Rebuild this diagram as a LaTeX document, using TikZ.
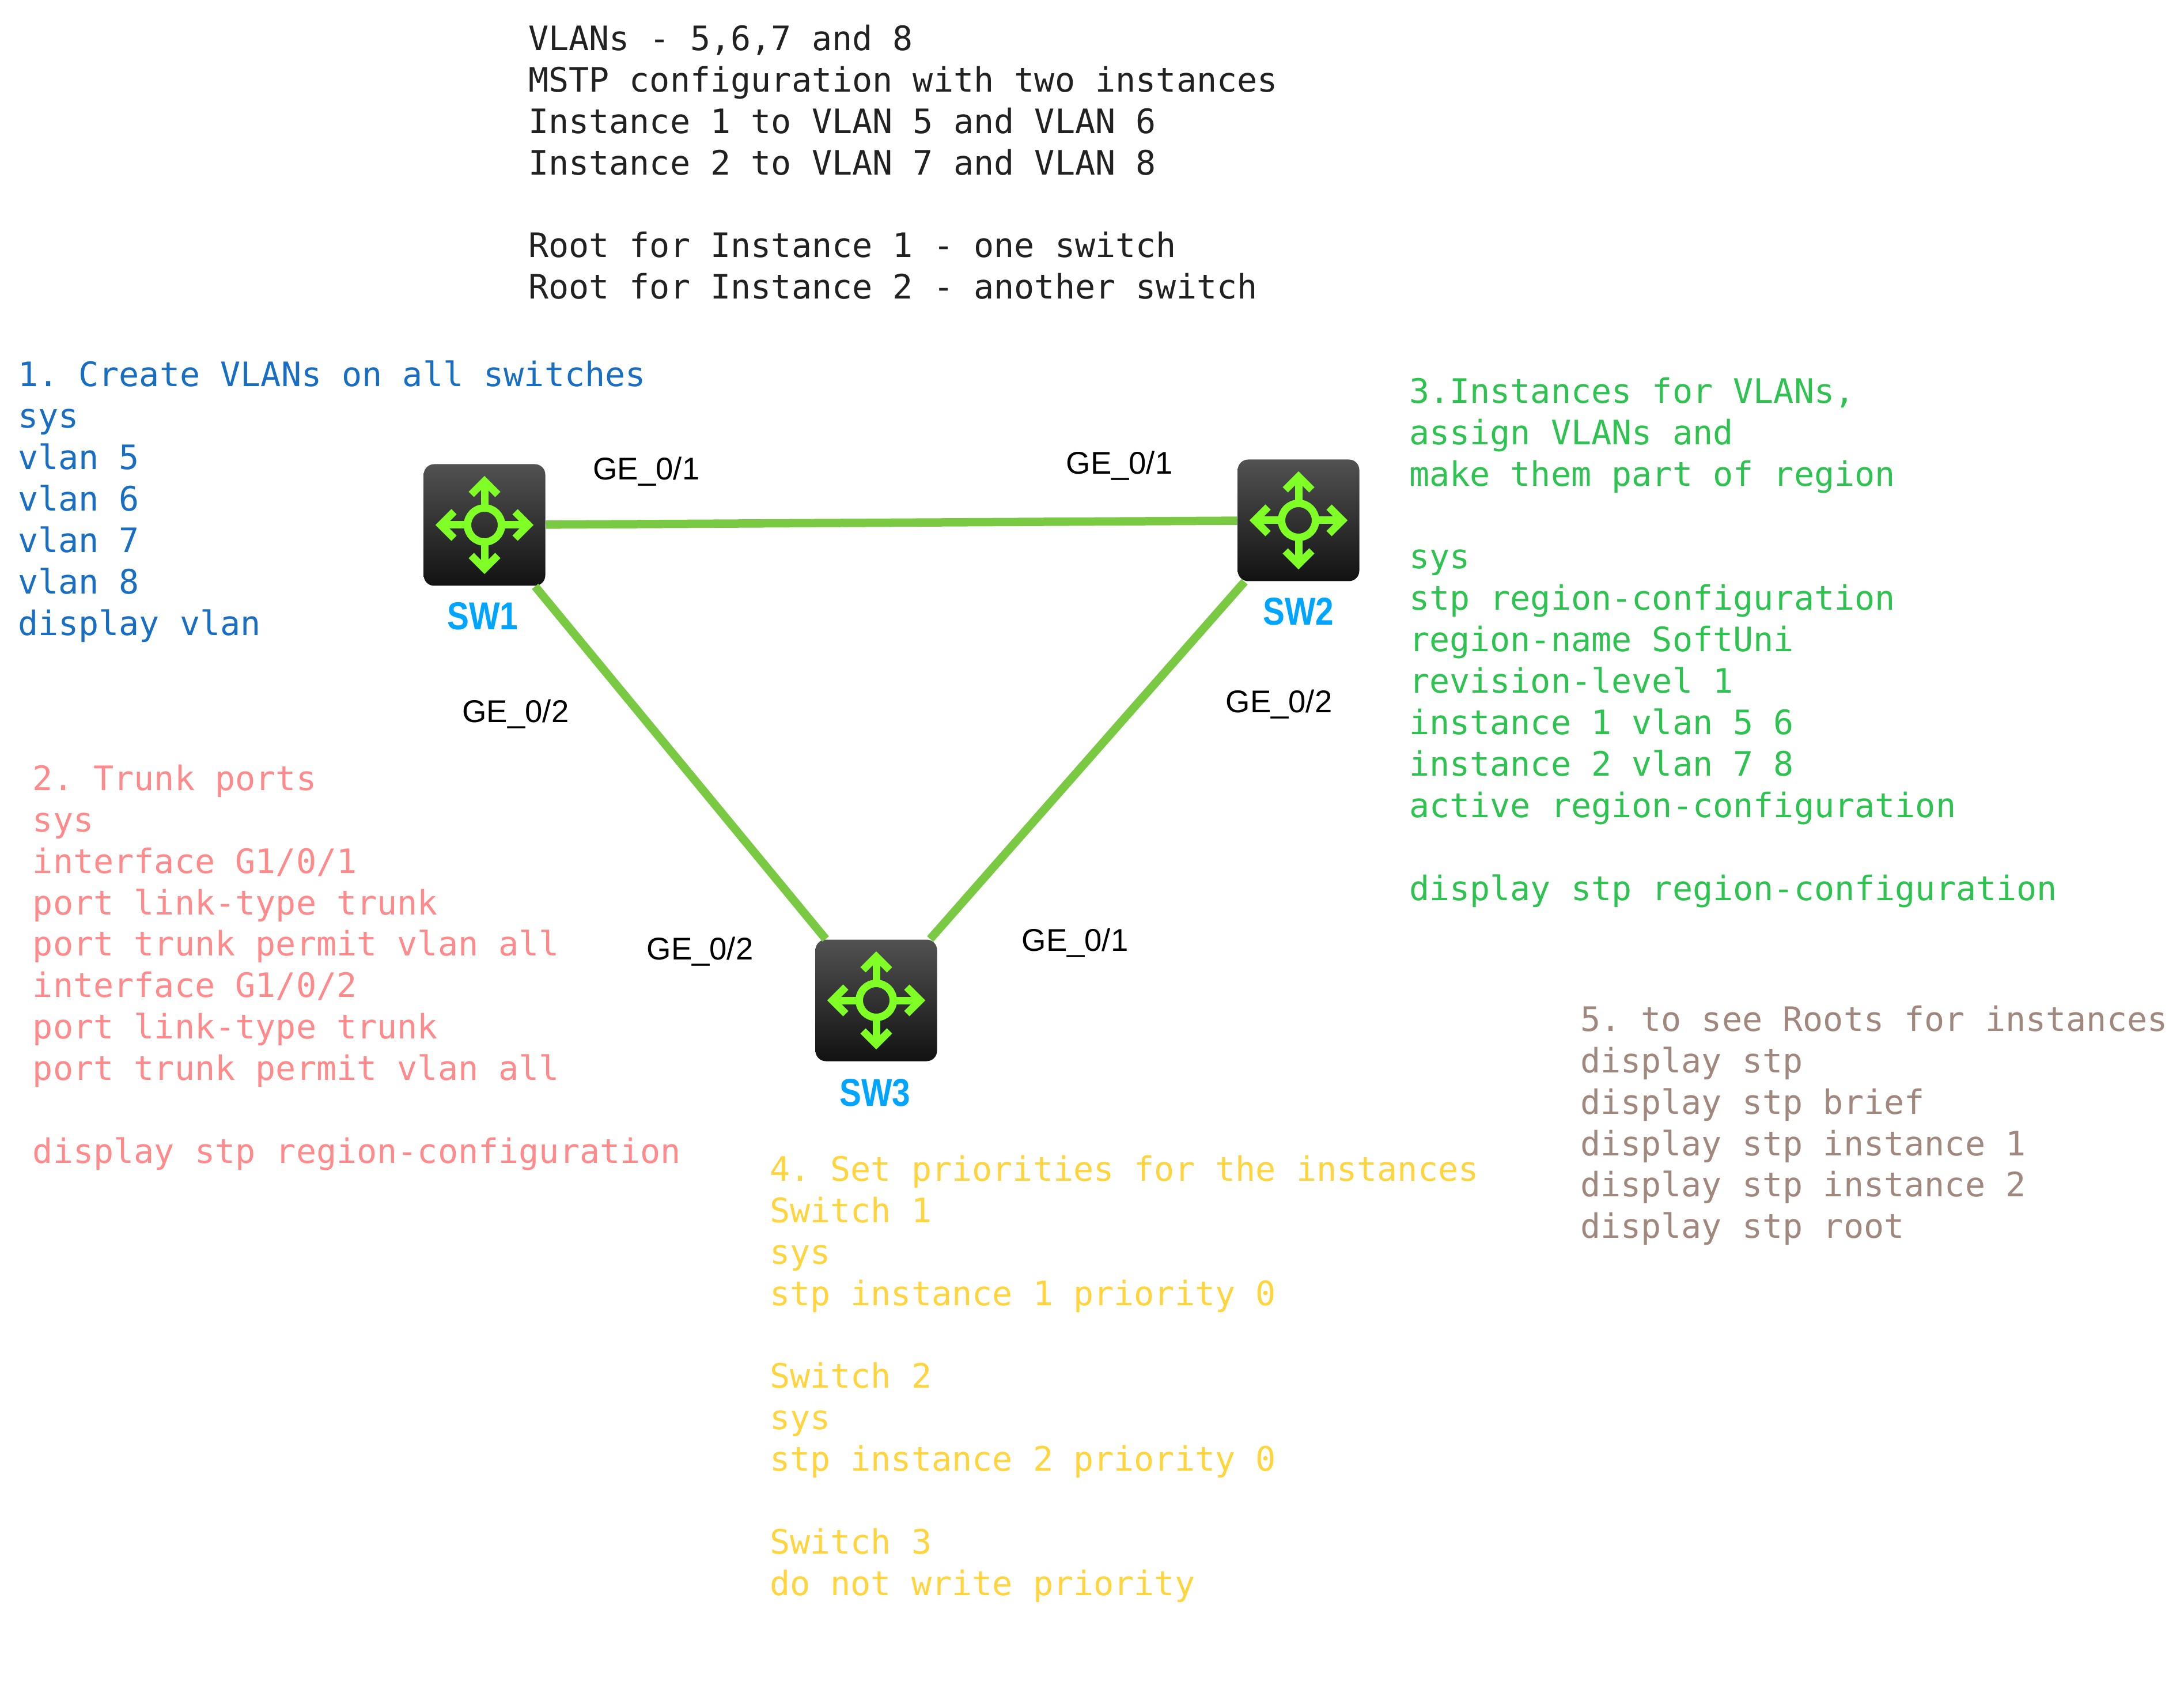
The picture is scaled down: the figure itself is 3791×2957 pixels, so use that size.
\documentclass[tikz,border=0pt]{standalone}
\usepackage{fontspec}
\usepackage{xcolor}
\definecolor{linkgreen}{RGB}{122,201,67}
\definecolor{icongreen}{RGB}{128,255,38}
\definecolor{namecyan}{RGB}{0,165,255}
\definecolor{myblue}{RGB}{24,110,194}
\definecolor{mypink}{RGB}{255,138,140}
\definecolor{mygreen}{RGB}{46,194,80}
\definecolor{myyellow}{RGB}{255,212,60}
\definecolor{mybrown}{RGB}{161,136,127}
\newfontfamily\monofnt{DejaVu Sans Mono}
\newfontfamily\labelfnt{Liberation Sans}
\frenchspacing
\newcommand{\widthswitch}{42.2pt}
\newcommand{\swicon}[1]{
    \begin{scope}[shift={(#1.center)}, icon]
        \draw (0,0) circle (29.5);
        \foreach \a in {0,90,180,270} {
            \draw[rotate=\a] (29.5,0) -- (76,0);
            \draw[rotate=\a] (53,23) -- (76,0) -- (53,-23);
        }
    \end{scope}
}
\tikzset{
    swnode/.style={rectangle, inner sep=0pt, minimum size=\widthswitch, rounded corners=3.6pt, top color=black!68!white, bottom color=black!93!white},
    icon/.style={icongreen, line width=2.6pt, miter limit=4},
    link/.style={linkgreen, line width=2.9pt},
    swname/.style={inner sep=0pt, anchor=base, namecyan, xscale=0.84, font=\labelfnt\bfseries\fontsize{13.5}{15}\selectfont},
    port/.style={inner sep=0pt, anchor=base, black, font=\labelfnt\fontsize{10.9}{12}\selectfont},
    block/.style={inner sep=0pt, anchor=north west, align=left, execute at begin node=\strut, font=\monofnt\fontsize{11.68}{14.38}\selectfont},
}
\begin{document}
\begin{tikzpicture}[x=0.2pt, y=-0.2pt]
    \useasboundingbox (0,0) rectangle (3791,2957);

    \node[swnode] (sw1) at (841,911) {};
    \node[swnode] (sw2) at (2254,903) {};
    \node[swnode] (sw3) at (1521,1736) {};

    \draw[link] (sw1) -- (sw2);
    \draw[link] (sw1) -- (sw3);
    \draw[link] (sw2) -- (sw3);

    \swicon{sw1}
    \swicon{sw2}
    \swicon{sw3}

    \node[swname] (name1) at (838,1092) {SW1};
    \node[swname] (name2) at (2254,1085) {SW2};
    \node[swname] (name3) at (1519,1919) {SW3};

    \node[port] (p1) at (1122,833) {GE\_0/1};
    \node[port] (p2) at (1943,823) {GE\_0/1};
    \node[port] (p3) at (895,1254) {GE\_0/2};
    \node[port] (p4) at (2220,1237) {GE\_0/2};
    \node[port] (p5) at (1215,1665) {GE\_0/2};
    \node[port] (p6) at (1866,1650) {GE\_0/1};

    \node[block, black!87!white] (intro) at (916,42) {VLANs - 5,6,7 and 8\\
MSTP configuration with two instances\\
Instance 1 to VLAN 5 and VLAN 6\\
Instance 2 to VLAN 7 and VLAN 8\\
\strut\\
Root for Instance 1 - one switch\\
Root for Instance 2 - another switch};

    \node[block, myblue] (vlans) at (30,625) {1. Create VLANs on all switches\\
sys\\
vlan 5\\
vlan 6\\
vlan 7\\
vlan 8\\
display vlan};

    \node[block, mypink] (trunk) at (56,1326) {2. Trunk ports\\
sys\\
interface G1/0/1\\
port link-type trunk\\
port trunk permit vlan all\\
interface G1/0/2\\
port link-type trunk\\
port trunk permit vlan all\\
\strut\\
display stp region-configuration};

    \node[block, mygreen] (region) at (2445,654) {3.Instances for VLANs,\\
assign VLANs and\\
make them part of region\\
\strut\\
sys\\
stp region-configuration\\
region-name SoftUni\\
revision-level 1\\
instance 1 vlan 5 6\\
instance 2 vlan 7 8\\
active region-configuration\\
\strut\\
display stp region-configuration};

    \node[block, myyellow] (prio) at (1335,2004) {4. Set priorities for the instances\\
Switch 1\\
sys\\
stp instance 1 priority 0\\
\strut\\
Switch 2\\
sys\\
stp instance 2 priority 0\\
\strut\\
Switch 3\\
do not write priority};

    \node[block, mybrown] (roots) at (2742,1744) {5. to see Roots for instances\\
display stp\\
display stp brief\\
display stp instance 1\\
display stp instance 2\\
display stp root};
\end{tikzpicture}
\end{document}
